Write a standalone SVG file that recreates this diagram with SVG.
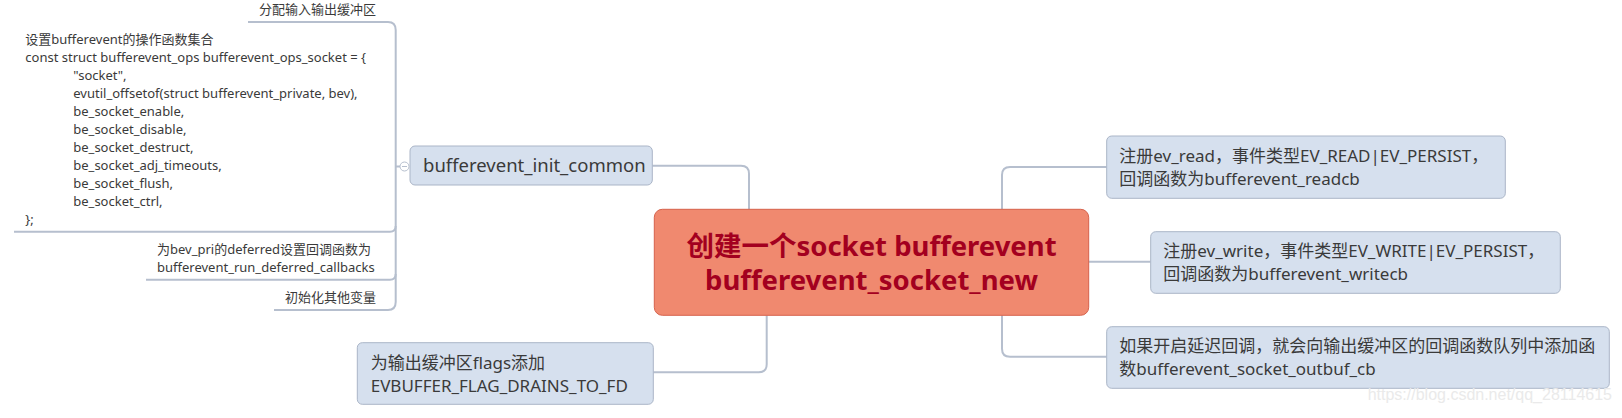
<svg xmlns="http://www.w3.org/2000/svg" width="1622" height="418" viewBox="0 0 1622 418">
<style>
text{font-family:"Noto Sans","Noto Sans CJK SC",sans-serif;fill:#3a3a3a}
.sm{font-size:13px}
.md{font-size:17px}
.lg{font-size:18.5px}
.box{fill:#D6E0EE;stroke:#AAB5C7;stroke-width:1}
.conn{fill:none;stroke:#B6BFCE;stroke-width:2}
.central{fill:#F0896F;stroke:#D6624C;stroke-width:1}
.ctext{font-size:27.5px;font-weight:bold;fill:#A3001F;text-anchor:middle}
.wm{font-family:"Liberation Sans",sans-serif;font-size:16px;fill:#EAEAEA;text-anchor:end}
</style>
<rect width="1622" height="418" fill="#ffffff"/>
<g id="connectors">
<path class="conn" d="M652.3,165.7 H741 Q749,165.7 749,173.7 V209.3"/>
<path class="conn" d="M766.7,315.3 V364.3 Q766.7,372.3 758.7,372.3 H653.3"/>
<path class="conn" d="M1002,209.3 V175 Q1002,167 1010,167 H1106.7"/>
<path class="conn" d="M1088.7,261.7 H1150.7"/>
<path class="conn" d="M1002,315.3 V348.7 Q1002,356.7 1010,356.7 H1106.7"/>
<path class="conn" d="M248,22 H388 Q395.7,22 395.7,30 V302 Q395.7,310 388,310 H274"/>
<path class="conn" d="M14,231.7 H390 Q395.7,231.7 395.7,226"/>
<path class="conn" d="M146,279.7 H390 Q395.7,279.7 395.7,274"/>
<path class="conn" d="M395.7,166.5 H400"/>
</g>
<g id="central">
<rect class="central" x="654.3" y="209.3" width="434.4" height="106" rx="8"/>
<text class="ctext" x="871.5" y="256">创建一个socket bufferevent</text>
<text class="ctext" x="871.5" y="290">bufferevent_socket_new</text>
</g>
<g id="init_common">
<rect class="box" x="410" y="146" width="242.3" height="39" rx="5"/>
<text class="lg" x="423" y="172">bufferevent_init_common</text>
</g>
<g id="collapse">
<circle cx="404.5" cy="166.5" r="4.5" fill="#ffffff" stroke="#B6BFCE" stroke-width="1"/>
<path d="M402,166.5 H407" stroke="#B6BFCE" stroke-width="1"/>
</g>
<g id="alloc_buffers">
<text class="sm" x="259" y="14">分配输入输出缓冲区</text>
</g>
<g id="ops_set">
<text class="sm" x="25.3" y="44.3">设置bufferevent的操作函数集合</text>
<text class="sm" x="25.3" y="62.3">const struct bufferevent_ops bufferevent_ops_socket = {</text>
<text class="sm" x="73.3" y="80.3">"socket",</text>
<text class="sm" x="73.3" y="98.3">evutil_offsetof(struct bufferevent_private, bev),</text>
<text class="sm" x="73.3" y="116.3">be_socket_enable,</text>
<text class="sm" x="73.3" y="134.3">be_socket_disable,</text>
<text class="sm" x="73.3" y="152.3">be_socket_destruct,</text>
<text class="sm" x="73.3" y="170.3">be_socket_adj_timeouts,</text>
<text class="sm" x="73.3" y="188.3">be_socket_flush,</text>
<text class="sm" x="73.3" y="206.3">be_socket_ctrl,</text>
<text class="sm" x="25.3" y="223.5">};</text>
</g>
<g id="deferred">
<text class="sm" x="157" y="254">为bev_pri的deferred设置回调函数为</text>
<text class="sm" x="157" y="271.7">bufferevent_run_deferred_callbacks</text>
</g>
<g id="init_other">
<text class="sm" x="285" y="301.7">初始化其他变量</text>
</g>
<g id="flags">
<rect class="box" x="357.3" y="342.7" width="296" height="61.6" rx="5"/>
<text class="md" x="370.7" y="369">为输出缓冲区flags添加</text>
<text class="md" x="370.7" y="391.7">EVBUFFER_FLAG_DRAINS_TO_FD</text>
</g>
<g id="ev_read">
<rect class="box" x="1106.7" y="136" width="398.6" height="62.3" rx="5"/>
<text class="md" x="1119.3" y="161.7">注册ev_read，事件类型EV_READ|EV_PERSIST，</text>
<text class="md" x="1119.3" y="185">回调函数为bufferevent_readcb</text>
</g>
<g id="ev_write">
<rect class="box" x="1150.7" y="231.7" width="409.6" height="61.6" rx="5"/>
<text class="md" x="1163.3" y="256.7">注册ev_write，事件类型EV_WRITE|EV_PERSIST，</text>
<text class="md" x="1163.3" y="280">回调函数为bufferevent_writecb</text>
</g>
<g id="outbuf_cb">
<rect class="box" x="1106.7" y="326.7" width="502.6" height="61.6" rx="5"/>
<text class="md" x="1119.3" y="351.7">如果开启延迟回调，就会向输出缓冲区的回调函数队列中添加函</text>
<text class="md" x="1119.3" y="375">数bufferevent_socket_outbuf_cb</text>
</g>
<text class="wm" x="1612" y="400">https://blog.csdn.net/qq_28114615</text>
</svg>
